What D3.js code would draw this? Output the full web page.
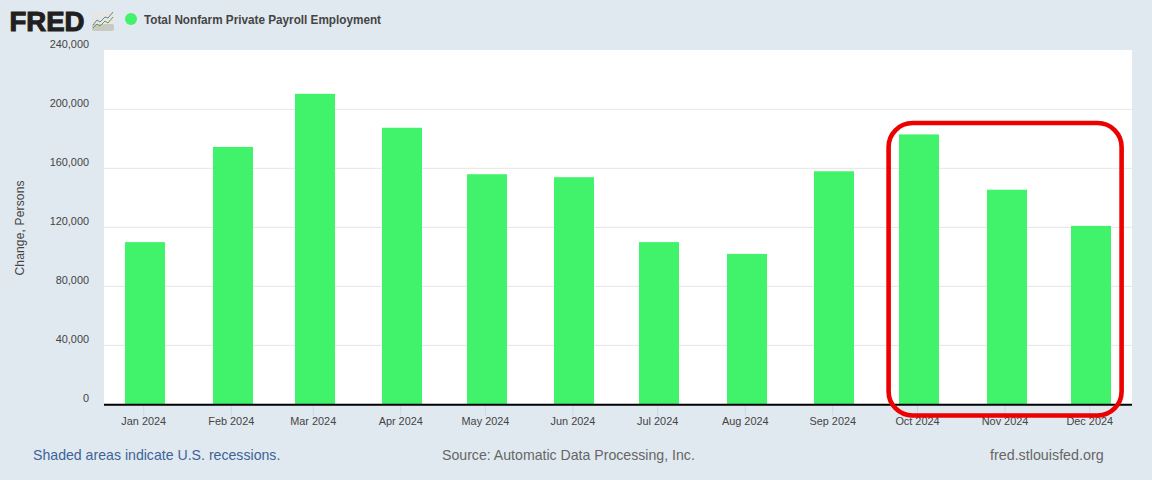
<!DOCTYPE html>
<html><head><meta charset="utf-8">
<script src="https://cdn.jsdelivr.net/npm/d3@7/dist/d3.min.js"></script>
<style>
html,body{margin:0;padding:0;background:#e1e9f0;overflow:hidden}
svg{display:block}
text{font-family:"Liberation Sans",Arial,sans-serif}
</style></head><body>
<svg id="c" width="1152" height="480"></svg>
<script>
const months = ["2024-01-01","2024-02-01","2024-03-01","2024-04-01","2024-05-01","2024-06-01","2024-07-01","2024-08-01","2024-09-01","2024-10-01","2024-11-01","2024-12-01"];
const values = [110000,174500,210500,187500,156000,154000,110000,102000,158000,183000,145500,121000];
const yTicks = [0,40000,80000,120000,160000,200000,240000];
const seriesName = "Total Nonfarm Private Payroll Employment";
const yTitle = "Change, Persons";
const footer = ["Shaded areas indicate U.S. recessions.","Source: Automatic Data Processing, Inc.","fred.stlouisfed.org"];
const GREEN = "#41f26b";

const svg = d3.select("#c");
const dates = months.map(d3.utcParse("%Y-%m-%d"));
const plot = {l:104, r:1132, t:50, b:404.4};
const x = d3.scaleUtc().domain([dates[0], dates[11]]).range([145.25, 1091.25]);
const y = d3.scaleLinear().domain([0,240000]).range([plot.b, plot.t+0.3]);

svg.append("rect").attr("x",plot.l).attr("y",plot.t).attr("width",plot.r-plot.l).attr("height",plot.b-plot.t).attr("fill","#fff");

// y axis + grid
const ya = svg.append("g").attr("transform",`translate(${plot.l},0)`)
  .call(d3.axisLeft(y).tickValues(yTicks).tickFormat(d3.format(",")).tickSize(0).tickPadding(15));
ya.select(".domain").remove();
ya.selectAll("text").attr("font-size",10.9).attr("fill","#444").attr("dy",-2.45)
  .style("font-family",'"Liberation Sans",Arial,sans-serif');
svg.append("g").selectAll("line").data(yTicks.filter(t=>t>0&&t<240000)).join("line")
  .attr("x1",plot.l).attr("x2",plot.r).attr("y1",d=>y(d)).attr("y2",d=>y(d))
  .attr("stroke","#e6e6e6").attr("stroke-width",1);

// bars
svg.append("g").selectAll("rect").data(values).join("rect")
  .attr("x",(d,i)=>Math.round(x(dates[i]))-20).attr("width",40)
  .attr("y",d=>y(d)).attr("height",d=>plot.b-y(d)).attr("fill",GREEN);

// x axis
const xa = svg.append("g").attr("transform",`translate(-2,${plot.b+1})`)
  .call(d3.axisBottom(x).tickValues(dates).tickFormat(d3.utcFormat("%b %Y")).tickSize(10).tickPadding(2));
xa.select(".domain").remove();
xa.selectAll(".tick line").attr("stroke","#ccd6eb");
xa.selectAll("text").attr("font-size",10.9).attr("fill","#444")
  .style("font-family",'"Liberation Sans",Arial,sans-serif');
svg.append("line").attr("x1",plot.l).attr("x2",plot.r).attr("y1",plot.b+0.3).attr("y2",plot.b+0.3)
  .attr("stroke","#000").attr("stroke-width",2);

// annotation
svg.append("rect").attr("x",888.6).attr("y",123).attr("width",233).attr("height",292.5)
  .attr("rx",24).attr("ry",24).attr("fill","none").attr("stroke","#ec0000").attr("stroke-width",4.6);

// y title
svg.append("text").attr("transform","translate(24,228) rotate(-90)").attr("text-anchor","middle")
  .attr("font-size",12).attr("fill","#444").attr("textLength",95).text(yTitle);

// logo
svg.append("text").attr("x",9.5).attr("y",31).attr("font-size",28.5).attr("font-weight",700)
  .attr("fill","#231f20").attr("stroke","#231f20").attr("stroke-width",1.1)
  .attr("textLength",75).attr("lengthAdjust","spacingAndGlyphs").text("FRED");
const logo = svg.append("g").attr("transform","translate(92,11)");
logo.append("rect").attr("width",22).attr("height",20).attr("rx",2).attr("fill","#e6e6e2");
logo.append("rect").attr("y",13).attr("width",22).attr("height",7).attr("rx",2).attr("fill","#c9c9c4");
const logoLine = d3.line();
logo.append("path").attr("d",logoLine([[1,14],[5,9],[8,11],[13,6],[16,7],[21,1]])).attr("fill","none").attr("stroke","#5b86a8").attr("stroke-width",1);
logo.append("path").attr("d",logoLine([[1,17],[5,13],[8,15],[13,10],[16,12],[21,6]])).attr("fill","none").attr("stroke","#6f9a3c").attr("stroke-width",1);

// legend
svg.append("circle").attr("cx",131).attr("cy",19).attr("r",6).attr("fill",GREEN);
svg.append("text").attr("x",144).attr("y",24).attr("font-size",12).attr("font-weight",700).attr("fill","#444")
  .attr("textLength",237).attr("lengthAdjust","spacingAndGlyphs").text(seriesName);

// footer
const fy = 460;
svg.append("text").attr("x",33).attr("y",fy).attr("font-size",14.13).attr("fill","#3c6499").text(footer[0]);
svg.append("text").attr("x",442).attr("y",fy).attr("font-size",14.13).attr("fill","#666").text(footer[1]);
svg.append("text").attr("x",990).attr("y",fy).attr("font-size",14.3).attr("fill","#666").text(footer[2]);
</script>
</body></html>
